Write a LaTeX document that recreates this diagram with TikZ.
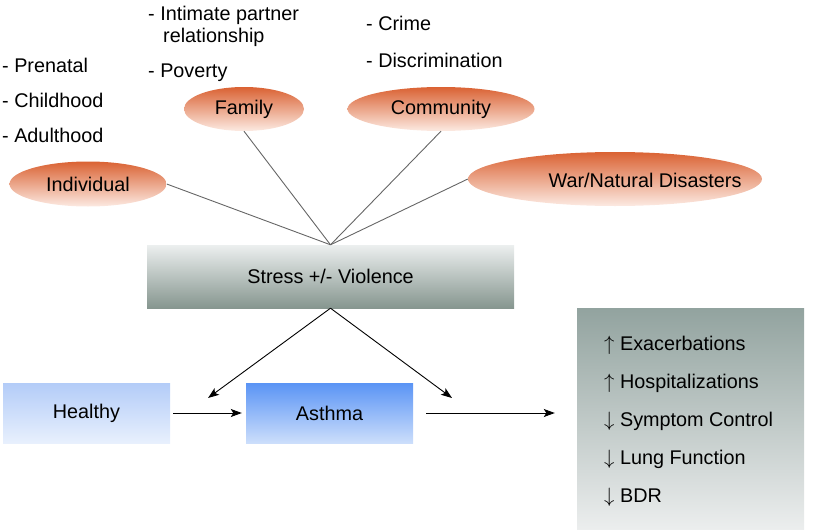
\documentclass[tikz,border=0pt]{standalone}
\usepackage{fontspec}
\setmainfont{Liberation Sans}
\usetikzlibrary{arrows.meta,shapes.geometric}
\definecolor{ellT}{HTML}{DA6233}
\definecolor{ellB}{HTML}{FCEAE2}
\definecolor{strT}{HTML}{ECEFEF}
\definecolor{strB}{HTML}{86968F}
\definecolor{heaT}{HTML}{B3CCF8}
\definecolor{heaB}{HTML}{E8F0FD}
\definecolor{astT}{HTML}{5A94F5}
\definecolor{astB}{HTML}{CCDEFB}
\definecolor{outT}{HTML}{92A39F}
\definecolor{outB}{HTML}{ECEEEE}
\definecolor{lineG}{HTML}{666666}
\begin{document}
\begin{tikzpicture}[x=1pt,y=-1pt,
  font=\fontsize{19.8}{24}\selectfont,
  ell/.style={ellipse, inner sep=0pt, top color=ellT, bottom color=ellB, draw=none},
  box/.style={rectangle, inner sep=0pt, draw=none},
  lab/.style={anchor=base west, inner sep=0pt},
  conn/.style={draw=lineG, line width=0.9pt},
  arr/.style={-{Stealth[length=11pt,width=8pt,inset=2.5pt]}, line width=0.9pt}]
\useasboundingbox (0,0) rectangle (825,530);

% ellipses
\node[ell, minimum width=157pt, minimum height=45pt] (ind) at (88,184) {Individual};
\node[ell, minimum width=120pt, minimum height=44pt] (fam) at (244,109) {Family};
\node[ell, minimum width=187pt, minimum height=44pt] (com) at (441,109) {Community};
\node[ell, minimum width=294pt, minimum height=54pt] (war) at (615,179) {};
\node[inner sep=0pt] (wart) at (645,180) {War/Natural Disasters};

% side labels
\node[lab] (l1) at (2,72) {- Prenatal};
\node[lab] (l2) at (2,107) {- Childhood};
\node[lab] (l3) at (2,142) {- Adulthood};
\node[lab] (f1) at (148,20) {- Intimate partner};
\node[lab] (f2) at (163,42) {relationship};
\node[lab] (f3) at (148,77) {- Poverty};
\node[lab] (c1) at (366,30) {- Crime};
\node[lab] (c2) at (366,67) {- Discrimination};

% stress box
\node[box, minimum width=367pt, minimum height=63pt, top color=strT, bottom color=strB] (stress) at (330.5,276.5) {Stress +/- Violence};

\draw[conn] (ind.east) -- (stress.north);
\draw[conn] (fam.south) -- (stress.north);
\draw[conn] (com.south) -- (stress.north);
\draw[conn] (war.west) -- (stress.north);

% lower boxes
\node[box, minimum width=167pt, minimum height=60pt, top color=heaT, bottom color=heaB] (hea) at (86.5,413) {Healthy};
\node[box, minimum width=167pt, minimum height=60pt, top color=astT, bottom color=astB] (ast) at (329.5,413) {Asthma};
\node[box, minimum width=227pt, minimum height=222pt, top color=outT, bottom color=outB] (out) at (690.5,419) {};

\coordinate (tl) at (208,398);
\coordinate (tr) at (452,398);
\draw[arr] (stress.south) -- (tl);
\draw[arr] (stress.south) -- (tr);
\draw[arr, shorten <=3pt, shorten >=4pt] (hea.east) -- (ast.west);
\draw[arr, shorten <=13pt, shorten >=22pt] (ast.east) -- (ast.east -| out.west);

% outcomes
\node[lab] (o1) at (604,350) {$\uparrow$ Exacerbations};
\node[lab] (o2) at (604,388) {$\uparrow$ Hospitalizations};
\node[lab] (o3) at (604,426) {$\downarrow$ Symptom Control};
\node[lab] (o4) at (604,464) {$\downarrow$ Lung Function};
\node[lab] (o5) at (604,502) {$\downarrow$ BDR};
\end{tikzpicture}
\end{document}
